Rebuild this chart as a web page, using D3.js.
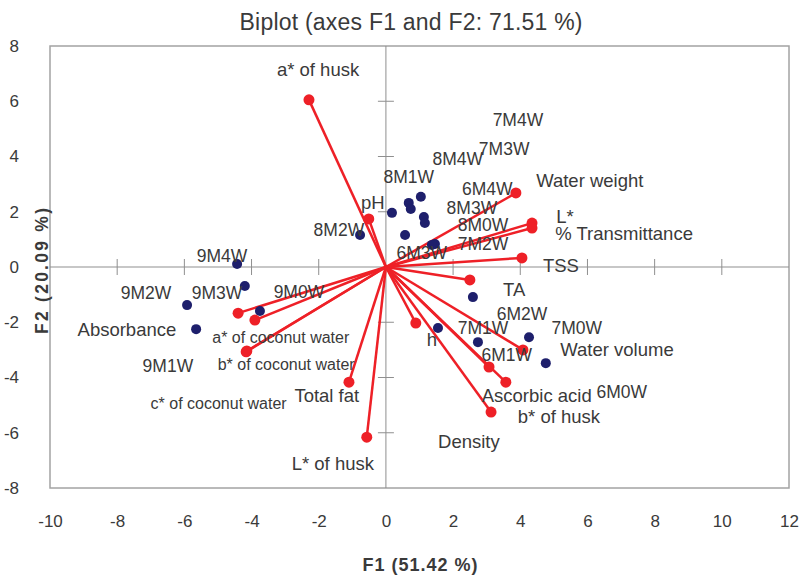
<!DOCTYPE html>
<html>
<head>
<meta charset="utf-8">
<script src="https://cdn.jsdelivr.net/npm/d3@7"></script>
<style>
  html, body { margin: 0; padding: 0; background: #fff; }
  svg { display: block; }
  text { font-family: "Liberation Sans", Arial, sans-serif; fill: #3a3a3a; }
</style>
</head>
<body>
<svg id="chart" width="800" height="575"></svg>
<script>
// ---- Variables (active variables, F1 / F2 loadings as drawn) ----
const varNames = ["a* of husk", "pH", "Water weight", "L*", "% Transmittance", "TSS", "TA",
  "h", "Water volume", "Ascorbic acid", "b* of husk", "Density",
  "Absorbance", "a* of coconut water", "b* of coconut water", "c* of coconut water",
  "Total fat", "L* of husk"];
const varF1 = [-2.29, -0.51, 3.87, 4.35, 4.35, 4.05, 2.50,
  0.89, 4.08, 3.57, 3.07, 3.13,
  -4.40, -3.90, -4.14, -4.16,
  -1.10, -0.57];
const varF2 = [6.05, 1.74, 2.68, 1.59, 1.41, 0.33, -0.47,
  -2.03, -3.00, -4.17, -3.62, -5.25,
  -1.67, -1.92, -3.04, -3.07,
  -4.17, -6.16];
// label anchor positions (data units) for variable names
const varLabelF1 = [-2.02, -0.39, 6.07, 5.33, 7.09, 5.21, 3.82,
  1.37, 6.88, 4.49, 5.15, 2.47,
  -7.71, -3.13, -2.97, -4.98,
  -1.76, -1.58];
const varLabelF2 = [7.14, 2.32, 3.12, 1.84, 1.20, 0.07, -0.83,
  -2.64, -2.97, -4.67, -5.40, -6.30,
  -2.28, -2.54, -3.51, -4.93,
  -4.67, -7.10];
const varLabelSize = [18.5, 18.5, 18.5, 18.5, 18.5, 18.5, 18.5,
  18.5, 18.5, 18.5, 18.5, 18.5,
  18.5, 16, 16, 16,
  18.5, 18.5];

// ---- Observations (samples) ----
const sampleF1 = [0.18, 1.04, 0.68, 0.74, 1.13, 1.16, 0.57, 1.46, 1.37, -0.77,
  -4.43, -4.20, -3.75, -5.92, -5.65,
  2.59, 1.55, 2.74, 4.26, 4.76];
const sampleF2 = [1.96, 2.54, 2.32, 2.10, 1.81, 1.59, 1.16, 0.83, 0.80, 1.16,
  0.11, -0.69, -1.59, -1.38, -2.25,
  -1.09, -2.21, -2.72, -2.54, -3.48];
// sample label texts and anchor positions (data units)
const sampleLabels = ["8M1W", "8M4W", "7M4W", "8M3W", "7M3W", "6M4W", "8M0W", "7M2W", "6M3W", "8M2W",
  "9M4W", "9M3W", "9M0W", "9M2W", "9M1W",
  "7M1W", "6M1W", "6M2W", "7M0W", "6M0W"];
const sampleLabelF1 = [0.68, 2.14, 3.93, 2.56, 3.52, 3.02, 2.89, 2.89, 1.07, -1.40,
  -4.88, -5.03, -2.59, -7.14, -6.49,
  2.89, 3.60, 4.05, 5.68, 7.02];
const sampleLabelF2 = [3.25, 3.92, 5.32, 2.14, 4.28, 2.82, 1.52, 0.83, 0.50, 1.34,
  0.40, -0.94, -0.91, -0.94, -3.59,
  -2.21, -3.19, -1.70, -2.21, -4.53];

const xTicks = [-10, -8, -6, -4, -2, 0, 2, 4, 6, 8, 10, 12];
const yTicks = [-8, -6, -4, -2, 0, 2, 4, 6, 8];

const titleText = "Biplot (axes F1 and F2: 71.51 %)";
const xTitle = "F1 (51.42 %)";
const yTitle = "F2 (20.09 %)";

// ---- Drawing ----
const svg = d3.select("#chart");
const x = d3.scaleLinear().domain([-10, 12]).range([50, 789]);
const y = d3.scaleLinear().domain([-8, 8]).range([488, 46]);

const RED = "#ee2027";
const BLUE = "#1e1f6c";
const GRID = "#8f8f8f";
const fmt = d => String(d);   // plain hyphen-minus as in the reference

// frame
svg.append("rect")
  .attr("x", x(-10)).attr("y", y(8))
  .attr("width", x(12) - x(-10)).attr("height", y(-8) - y(8))
  .attr("fill", "none").attr("stroke", "#a3a3a3").attr("stroke-width", 1.5);

// zero lines
svg.append("line").attr("x1", x(-10)).attr("x2", x(12)).attr("y1", y(0)).attr("y2", y(0))
  .attr("stroke", GRID).attr("stroke-width", 1);
svg.append("line").attr("x1", x(0)).attr("x2", x(0)).attr("y1", y(8)).attr("y2", y(-8))
  .attr("stroke", GRID).attr("stroke-width", 1);

// cross ticks on zero lines
const tk = 8;
svg.append("g").selectAll("line")
  .data(xTicks.filter(d => d !== 0 && d !== -10 && d !== 12))
  .join("line")
  .attr("x1", d => x(d)).attr("x2", d => x(d))
  .attr("y1", y(0) - tk).attr("y2", y(0) + tk)
  .attr("stroke", GRID).attr("stroke-width", 1);
svg.append("g").selectAll("line")
  .data(yTicks.filter(d => d !== 0 && d !== -8 && d !== 8))
  .join("line")
  .attr("y1", d => y(d)).attr("y2", d => y(d))
  .attr("x1", x(0) - tk).attr("x2", x(0) + tk)
  .attr("stroke", GRID).attr("stroke-width", 1);

// tick labels via d3 axes (outside the frame)
const xAxis = svg.append("g")
  .attr("transform", `translate(0, 515)`)
  .call(d3.axisBottom(x).tickValues(xTicks).tickSize(0).tickPadding(0).tickFormat(fmt));
xAxis.select(".domain").remove();
xAxis.selectAll("text").attr("font-size", 17).attr("font-family", "Liberation Sans, Arial, sans-serif")
  .attr("fill", "#3a3a3a").attr("dy", "0.71em");

const yAxis = svg.append("g")
  .attr("transform", `translate(19, 0)`)
  .call(d3.axisLeft(y).tickValues(yTicks).tickSize(0).tickPadding(0).tickFormat(fmt));
yAxis.select(".domain").remove();
yAxis.selectAll("text").attr("font-size", 17).attr("font-family", "Liberation Sans, Arial, sans-serif")
  .attr("fill", "#3a3a3a");

// variable vectors
const vars = varNames.map((n, i) => ({ n, f1: varF1[i], f2: varF2[i] }));
svg.append("g").selectAll("line")
  .data(vars).join("line")
  .attr("x1", x(0)).attr("y1", y(0))
  .attr("x2", d => x(d.f1)).attr("y2", d => y(d.f2))
  .attr("stroke", RED).attr("stroke-width", 2.5);

// sample points
const samples = sampleF1.map((f1, i) => ({ f1, f2: sampleF2[i] }));
svg.append("g").selectAll("circle")
  .data(samples).join("circle")
  .attr("cx", d => x(d.f1)).attr("cy", d => y(d.f2))
  .attr("r", 5).attr("fill", BLUE);

// variable end dots
svg.append("g").selectAll("circle")
  .data(vars).join("circle")
  .attr("cx", d => x(d.f1)).attr("cy", d => y(d.f2))
  .attr("r", 5.5).attr("fill", RED);

// sample labels
svg.append("g").selectAll("text")
  .data(sampleLabels.map((t, i) => ({ t, f1: sampleLabelF1[i], f2: sampleLabelF2[i] })))
  .join("text")
  .attr("x", d => x(d.f1)).attr("y", d => y(d.f2))
  .attr("text-anchor", "middle").attr("dy", "0.35em")
  .attr("font-size", 17.5)
  .text(d => d.t);

// variable labels
svg.append("g").selectAll("text")
  .data(varNames.map((t, i) => ({ t, f1: varLabelF1[i], f2: varLabelF2[i], s: varLabelSize[i] })))
  .join("text")
  .attr("x", d => x(d.f1)).attr("y", d => y(d.f2))
  .attr("text-anchor", "middle").attr("dy", "0.35em")
  .attr("font-size", d => d.s)
  .text(d => d.t);

// titles
svg.append("text").attr("x", 411).attr("y", 30)
  .attr("text-anchor", "middle").attr("font-size", 23).attr("fill", "#222")
  .attr("textLength", 343).attr("lengthAdjust", "spacing")
  .text(titleText);
svg.append("text").attr("x", 420).attr("y", 571)
  .attr("text-anchor", "middle").attr("font-size", 18).attr("font-weight", "bold").attr("fill", "#333")
  .attr("textLength", 115).attr("lengthAdjust", "spacing")
  .text(xTitle);
svg.append("text")
  .attr("transform", "translate(48, 271) rotate(-90)")
  .attr("text-anchor", "middle").attr("font-size", 17.5).attr("font-weight", "bold").attr("fill", "#333")
  .attr("textLength", 126).attr("lengthAdjust", "spacing")
  .text(yTitle);
</script>
</body>
</html>
